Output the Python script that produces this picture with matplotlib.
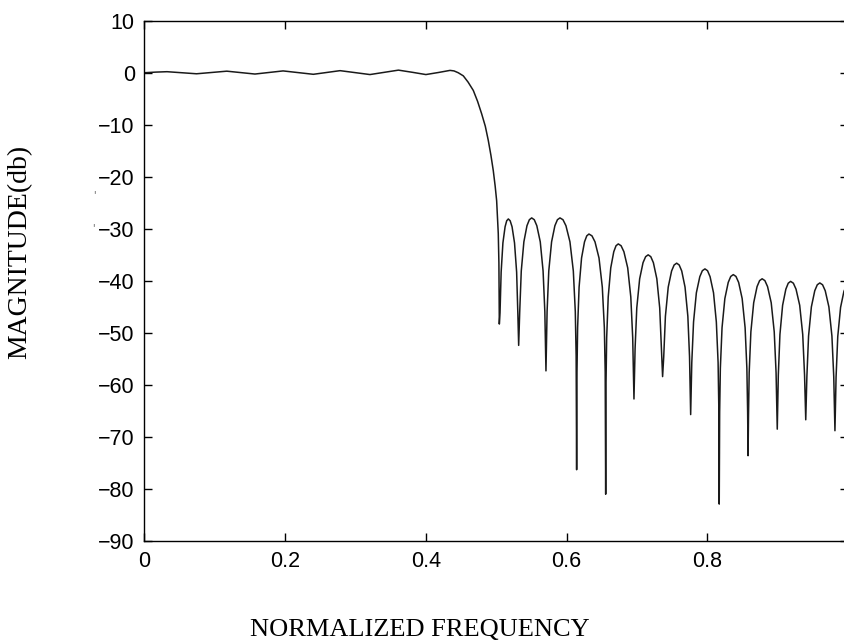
import numpy as np
import matplotlib
matplotlib.use("Agg")
import matplotlib.pyplot as plt

# passband ripple (normalized freq, dB)
pass_f = [0.0, 0.016, 0.032, 0.053, 0.074, 0.096, 0.117, 0.137, 0.157, 0.177, 0.197, 0.218,
          0.240, 0.259, 0.278, 0.299, 0.3205, 0.341, 0.361, 0.381, 0.400, 0.418, 0.4343]
pass_db = [0.0, 0.12, 0.2, 0.0, -0.2, 0.05, 0.3, 0.03, -0.25, 0.05, 0.35, 0.03,
           -0.3, 0.05, 0.4, 0.03, -0.35, 0.08, 0.5, 0.08, -0.35, 0.05, 0.45]

# transition band down to first null
trans_f = [0.440, 0.446, 0.4532, 0.460, 0.4674, 0.4735, 0.4793, 0.4845, 0.4887,
           0.4925, 0.4958, 0.4985, 0.5006, 0.5029, 0.5038, 0.5044]
trans_db = [0.35, 0.0, -0.6, -1.8, -3.4, -5.5, -7.9, -10.3, -13.0,
            -15.9, -18.8, -21.8, -24.6, -30.9, -36.5, -48.3]

# stopband lobes
stop_f = [0.5054, 0.5070, 0.5095, 0.5126, 0.5149, 0.5172, 0.5198, 0.5225, 0.5260, 0.5290, 0.5307, 0.5319,
          0.5334, 0.5356, 0.5393, 0.5437, 0.5471, 0.5504, 0.5541, 0.5577, 0.5626, 0.5666, 0.5691, 0.5707,
          0.5723, 0.5747, 0.5787, 0.5834, 0.5870, 0.5906, 0.5949, 0.5991, 0.6048, 0.6096, 0.6124, 0.6136, 0.6143,
          0.6148, 0.6157, 0.6178, 0.6213, 0.6255, 0.6287, 0.6318, 0.6361, 0.6404, 0.6461, 0.6508, 0.6537, 0.6549, 0.6556,
          0.6561, 0.6570, 0.6592, 0.6628, 0.6671, 0.6703, 0.6735, 0.6775, 0.6815, 0.6869, 0.6913, 0.6940, 0.6958,
          0.6974, 0.6998, 0.7039, 0.7087, 0.7124, 0.7160, 0.7197, 0.7234, 0.7283, 0.7324, 0.7349, 0.7365,
          0.7381, 0.7405, 0.7445, 0.7493, 0.7529, 0.7565, 0.7601, 0.7637, 0.7684, 0.7724, 0.7748, 0.7764,
          0.7780, 0.7805, 0.7845, 0.7894, 0.7930, 0.7967, 0.8004, 0.8040, 0.8089, 0.8129, 0.8154, 0.8164, 0.8170,
          0.8176, 0.8186, 0.8210, 0.8250, 0.8298, 0.8334, 0.8370, 0.8408, 0.8446, 0.8496, 0.8538, 0.8563, 0.8574, 0.8580,
          0.8586, 0.8596, 0.8620, 0.8660, 0.8708, 0.8744, 0.8780, 0.8819, 0.8857, 0.8909, 0.8952, 0.8978, 0.8995,
          0.9010, 0.9033, 0.9071, 0.9117, 0.9151, 0.9185, 0.9224, 0.9262, 0.9314, 0.9357, 0.9383, 0.9400,
          0.9416, 0.9440, 0.9480, 0.9528, 0.9564, 0.9600, 0.9639, 0.9677, 0.9729, 0.9772, 0.9798, 0.9815,
          0.9831, 0.9855, 0.9895, 0.9943, 0.9979, 1.0000]
stop_db = [-46.1, -38.3, -32.7, -29.6, -28.45, -28.1, -28.45, -29.6, -32.7, -38.3, -46.1, -52.4,
           -45.9, -38.1, -32.5, -29.4, -28.25, -27.9, -28.25, -29.4, -32.5, -38.1, -45.9, -57.3,
           -45.9, -38.1, -32.5, -29.4, -28.25, -27.9, -28.25, -29.4, -32.5, -38.1, -45.9, -54.4, -76.3,
           -57.5, -49.0, -41.2, -35.6, -32.5, -31.35, -31.0, -31.35, -32.5, -35.6, -41.2, -49.0, -57.5, -81.0,
           -59.4, -50.9, -43.1, -37.5, -34.4, -33.25, -32.9, -33.25, -34.4, -37.5, -43.1, -50.9, -62.7,
           -53.0, -45.2, -39.6, -36.5, -35.35, -35.0, -35.35, -36.5, -39.6, -45.2, -53.0, -58.4,
           -54.6, -46.8, -41.2, -38.1, -36.95, -36.6, -36.95, -38.1, -41.2, -46.8, -54.6, -65.7,
           -55.7, -47.9, -42.3, -39.2, -38.05, -37.7, -38.05, -39.2, -42.3, -47.9, -55.7, -64.2, -82.9,
           -65.3, -56.8, -49.0, -43.4, -40.3, -39.15, -38.8, -39.15, -40.3, -43.4, -49.0, -56.8, -65.3, -73.6,
           -66.1, -57.6, -49.8, -44.2, -41.1, -39.95, -39.6, -39.95, -41.1, -44.2, -49.8, -57.6, -68.5,
           -58.1, -50.3, -44.7, -41.6, -40.45, -40.1, -40.45, -41.6, -44.7, -50.3, -58.1, -66.7,
           -58.4, -50.6, -45.0, -41.9, -40.75, -40.4, -40.75, -41.9, -45.0, -50.6, -58.4, -68.8,
           -58.5, -50.7, -45.1, -42.0, -40.95, -40.6]

freq = np.concatenate([pass_f, trans_f, stop_f])
mag = np.concatenate([pass_db, trans_db, stop_db])

xticks = [0, 0.2, 0.4, 0.6, 0.8, 1.0]
xlabels = ["0", "0.2", "0.4", "0.6", "0.8", "1"]
yticks = list(range(-90, 11, 10))
ylabels = [str(v).replace("-", "\u2212") for v in yticks]

fig = plt.figure(figsize=(8.45, 6.43), dpi=100)
# axes runs a little past the right edge, as in the cropped original
ax = fig.add_axes([0.171, 0.1586, 0.8325, 0.8092])

ax.plot(freq, mag, color="#1a1a1a", linewidth=1.1)

ax.set_xlim(0, 1)
ax.set_ylim(-90, 10)
ax.set_xticks(xticks)
ax.set_xticklabels(xlabels, fontfamily="Liberation Sans", fontsize=15.5)
ax.set_yticks(yticks)
ax.set_yticklabels(ylabels, fontfamily="Liberation Sans", fontsize=15.5)
ax.tick_params(direction="in", length=6, width=1.0, top=True, right=True, pad=7)
for s in ax.spines.values():
    s.set_linewidth(1.0)

fig.text(0.497, 0.020, "NORMALIZED FREQUENCY", ha="center", va="center",
         fontfamily="Liberation Serif", fontsize=19)
fig.text(0.024, 0.608, "MAGNITUDE(db)", ha="center", va="center", rotation=90,
         fontfamily="Liberation Serif", fontsize=20)

# small stray marks left of the y tick labels
fig.text(0.112, 0.697, "'", fontsize=7, color="#555555", ha="center", va="center")
fig.text(0.110, 0.645, "'", fontsize=7, color="#555555", ha="center", va="center")

fig.savefig("out.png", dpi=100)
